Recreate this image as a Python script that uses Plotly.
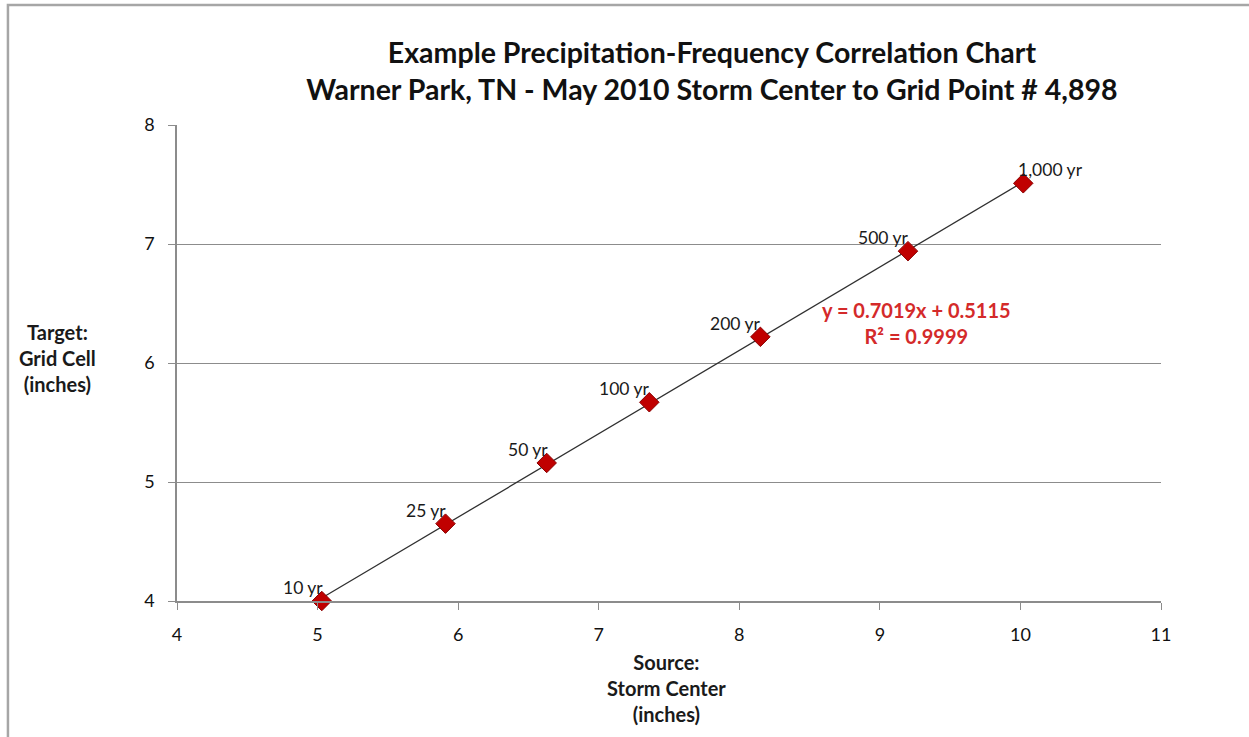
import numpy as np
import plotly.graph_objects as go

# return periods and depths (inches)
labels = ["10 yr", "25 yr", "50 yr", "100 yr", "200 yr", "500 yr", "1,000 yr"]
source_in = [5.03, 5.91, 6.63, 7.36, 8.15, 9.20, 10.02]
target_in = [4.00, 4.65, 5.16, 5.67, 6.22, 6.94, 7.51]

eq_text = "y = 0.7019x + 0.5115"
r2_text = "R² = 0.9999"

FONT = "Lato, 'Open Sans', sans-serif"
GRID = "#8c8c8c"
TICKS = dict(family=FONT, size=18, color="#111111")

# linear trendline over the data range (what Excel draws)
slope, icpt = np.polyfit(source_in, target_in, 1)
tx = np.array([min(source_in), max(source_in)])

fig = go.Figure()
fig.add_scatter(x=tx, y=slope * tx + icpt, mode="lines",
                line=dict(color="#303030", width=1.3), hoverinfo="skip",
                showlegend=False)
fig.add_scatter(x=source_in, y=target_in, mode="markers",
                marker=dict(symbol="diamond", size=15, color="#c00000",
                            line=dict(color="#8a0000", width=1)),
                cliponaxis=False, showlegend=False)

# point labels sit up-left of the marker, the last one up-right
for i, (x, y, t) in enumerate(zip(source_in, target_in, labels)):
    last = i == len(labels) - 1
    fig.add_annotation(x=x, y=y, text=t, showarrow=False,
                       xanchor="left" if last else "right", yanchor="bottom",
                       xshift=-7 if last else 3, yshift=1,
                       font=dict(family=FONT, size=17.5, color="#1a1a1a"))

# outer chart frame (top and left edges visible in the reference)
fig.add_shape(type="path", xref="paper", yref="paper",
              path="M -0.1718,-0.30 L -0.1718,1.252 L 1.10,1.252",
              line=dict(color="#a6a6a6", width=2.5))

fig.add_annotation(x=0.752, y=0.583, xref="paper", yref="paper",
                   xanchor="center", yanchor="middle",
                   text=f"<b>{eq_text}</b><br><b>{r2_text}</b>",
                   showarrow=False, align="center",
                   font=dict(family=FONT, size=20, color="#d42a2a"))
fig.add_annotation(x=-0.121, y=0.51, xref="paper", yref="paper",
                   xanchor="center", yanchor="middle",
                   text="<b>Target:</b><br><b>Grid Cell</b><br><b>(inches)</b>",
                   showarrow=False, align="center",
                   font=dict(family=FONT, size=20, color="#1a1a1a"))
fig.add_annotation(x=0.497, y=-0.183, xref="paper", yref="paper",
                   xanchor="center", yanchor="middle",
                   text="<b>Source:</b><br><b>Storm Center</b><br><b>(inches)</b>",
                   showarrow=False, align="center",
                   font=dict(family=FONT, size=20, color="#1a1a1a"))

fig.update_layout(
    width=1249, height=737,
    paper_bgcolor="white", plot_bgcolor="white",
    margin=dict(l=177, r=88, t=125, b=136),
    title=dict(text="<b>Example Precipitation-Frequency Correlation Chart</b>"
                    "<br><b>Warner Park, TN - May 2010 Storm Center to Grid Point # 4,898</b>",
               x=0.57, xanchor="center", y=0.915, yanchor="top",
               font=dict(family=FONT, size=28.5, color="#111111")),
    font=dict(family=FONT, size=17.5, color="#111111"),
    xaxis=dict(range=[4, 11], dtick=1, showgrid=False, zeroline=False,
               showline=True, linecolor=GRID, linewidth=1.5, tickfont=TICKS,
               ticks="outside", ticklen=7, tickcolor=GRID, ticklabelstandoff=10),
    yaxis=dict(range=[4, 8], dtick=1, showgrid=True, gridcolor=GRID,
               gridwidth=1, zeroline=False, tickfont=TICKS,
               showline=True, linecolor=GRID, linewidth=1.5,
               ticks="outside", ticklen=7, tickcolor=GRID, ticklabelstandoff=10),
)

fig.write_html("out.html", config={"displayModeBar": False},
               post_script="document.body.style.margin='0';")
